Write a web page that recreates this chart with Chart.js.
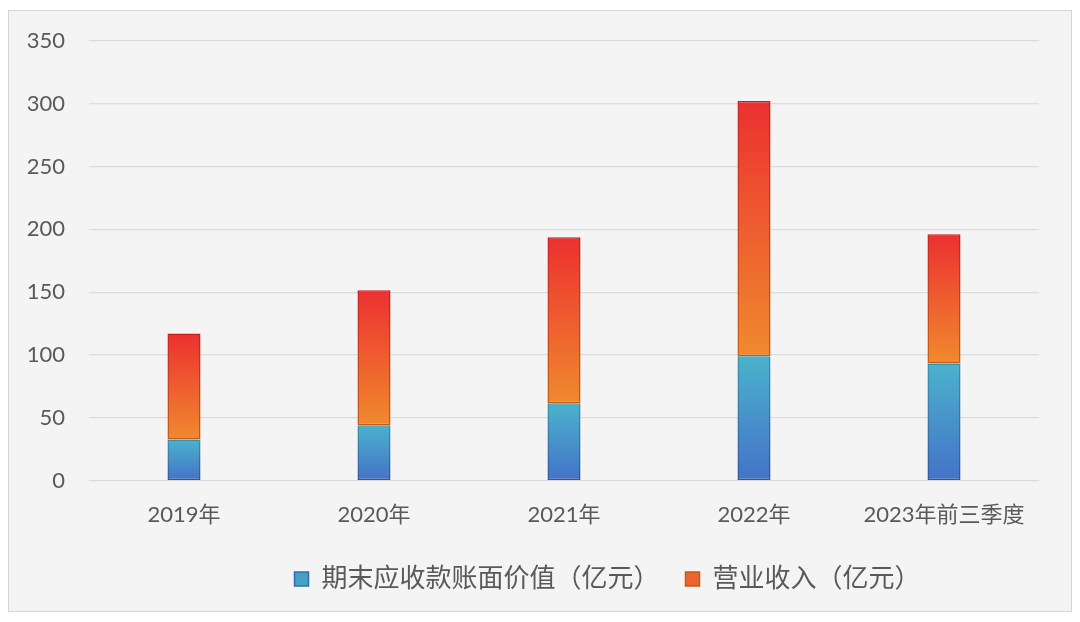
<!DOCTYPE html>
<html>
<head>
<meta charset="utf-8">
<script src="https://cdn.jsdelivr.net/npm/chart.js@4/dist/chart.umd.min.js"></script>
<style>
  body { margin: 0; background: #ffffff; }
  #frame { position: absolute; left: 8px; top: 10px; width: 1062px; height: 600px;
           border: 1px solid #d6d6d6; background: #f4f4f4; }
  #chart { position: absolute; left: 0; top: 0; }
</style>
</head>
<body>
<div id="frame"></div>
<canvas id="chart" width="1080" height="622"></canvas>
<script>
// Data (亿元)
const years = ['2019年', '2020年', '2021年', '2022年', '2023年前三季度'];
const receivables = [32.7, 44, 61.5, 99, 93.3];
const revenue = [84.5, 107.5, 132.3, 203.2, 102.9];
const yTicks = [0, 50, 100, 150, 200, 250, 300, 350];

const FONT = "Lato, 'Noto Sans CJK SC', sans-serif";

// vertical gradient fitted to each bar segment
function barGradient(stops, fallback) {
  return function (ctx) {
    const chart = ctx.chart;
    if (!chart.chartArea || ctx.type !== 'data') return fallback;
    const i = ctx.dataIndex;
    const base = ctx.datasetIndex === 0 ? 0 : receivables[i];
    const top = base + ctx.dataset.data[i];
    const y = chart.scales.y;
    const g = chart.ctx.createLinearGradient(0, y.getPixelForValue(base), 0, y.getPixelForValue(top));
    g.addColorStop(0, stops[0]);
    g.addColorStop(1, stops[1]);
    return g;
  };
}

// the legend sits a bit right of centre in the original
const legendShift = {
  id: 'legendShift',
  afterLayout(chart) {
    chart.legend.left += 88;
    chart.legend.right += 88;
  }
};

new Chart(document.getElementById('chart'), {
  type: 'bar',
  data: {
    labels: years,
    datasets: [
      {
        label: '期末应收款账面价值（亿元）',
        data: receivables,
        backgroundColor: barGradient(['#4472c8', '#4bb2cc'], '#46a0c8'),
        borderColor: barGradient(['#2f5597', '#3590ad'], '#2f7fa8'),
        borderWidth: 1.5,
        borderSkipped: false
      },
      {
        label: '营业收入（亿元）',
        data: revenue,
        backgroundColor: barGradient(['#f08a2e', '#ec3030'], '#ee6a30'),
        borderColor: barGradient(['#c55a11', '#c81e1e'], '#c55a11'),
        borderWidth: 1.5,
        borderSkipped: false
      }
    ]
  },
  plugins: [legendShift],
  options: {
    responsive: false,
    animation: false,
    layout: { padding: { left: 0, right: 41, top: 41, bottom: 20 } },
    datasets: { bar: { categoryPercentage: 1, barPercentage: 0.174 } },
    scales: {
      x: {
        stacked: true,
        afterFit: s => { s.height = s.height - 1; },
        grid: { display: false },
        border: { display: false },
        ticks: { color: '#595959', font: { family: FONT, size: 22 }, padding: 13 }
      },
      y: {
        stacked: true,
        min: 0,
        max: 350,
        afterFit: s => { s.width = 89; },
        afterBuildTicks: s => { s.ticks = yTicks.map(v => ({ value: v })); },
        grid: { color: '#dcdcdc', lineWidth: 1.3, drawTicks: false },
        border: { display: false },
        ticks: { color: '#595959', font: { family: FONT, size: 22 }, padding: 24 }
      }
    },
    plugins: {
      tooltip: { enabled: false },
      legend: {
        position: 'bottom',
        labels: {
          color: '#595959',
          font: { family: FONT, size: 26 },
          boxWidth: 14,
          boxHeight: 14,
          padding: 26,
          generateLabels: chart => chart.data.datasets.map((d, i) => ({
            text: d.label,
            fillStyle: i === 0 ? '#45a0c8' : '#ee6430',
            strokeStyle: i === 0 ? '#2f6fa8' : '#c55a11',
            lineWidth: 1.5,
            fontColor: '#595959',
            datasetIndex: i
          }))
        }
      }
    }
  }
});
</script>
</body>
</html>
